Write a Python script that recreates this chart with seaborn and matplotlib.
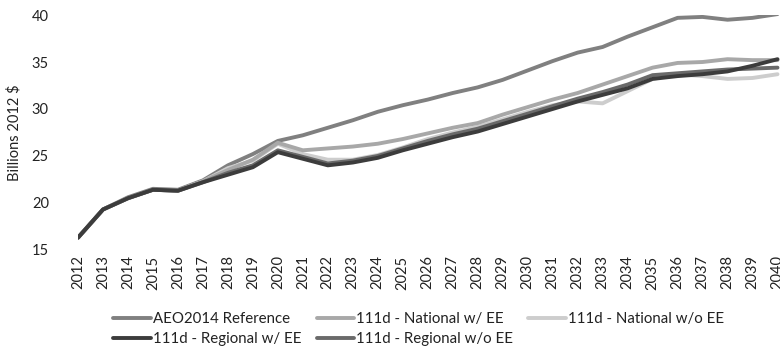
import matplotlib as mpl
import numpy as np
import pandas as pd
import seaborn as sns
import matplotlib.pyplot as plt

sns.set_style('white')
plt.rcParams['font.family'] = ['Lato', 'DejaVu Sans']

years = list(range(2012, 2041))

aeo_ref = [16.3, 19.3, 20.6, 21.5, 21.4, 22.4, 24.0, 25.2, 26.6, 27.2,
           28.0, 28.8, 29.7, 30.4, 31.0, 31.7, 32.3, 33.1, 34.1, 35.1,
           36.0, 36.6, 37.7, 38.7, 39.7, 39.8, 39.5, 39.7, 40.1]
nat_ee = [16.3, 19.3, 20.5, 21.4, 21.3, 22.3, 23.5, 24.6, 26.4, 25.6,
          25.8, 26.0, 26.3, 26.8, 27.4, 28.0, 28.5, 29.4, 30.2, 31.0,
          31.7, 32.6, 33.5, 34.4, 34.9, 35.0, 35.3, 35.2, 35.2]
nat_no_ee = [16.3, 19.3, 20.5, 21.4, 21.3, 22.3, 23.7, 24.5, 26.3, 25.2,
             24.6, 24.6, 25.1, 25.9, 26.8, 27.5, 28.1, 28.9, 29.7, 30.4,
             30.8, 30.6, 31.9, 33.2, 33.7, 33.5, 33.2, 33.3, 33.7]
reg_ee = [16.3, 19.3, 20.5, 21.4, 21.3, 22.2, 23.0, 23.8, 25.4, 24.7,
          24.0, 24.3, 24.8, 25.6, 26.3, 27.0, 27.6, 28.4, 29.2, 30.0,
          30.8, 31.5, 32.2, 33.2, 33.5, 33.7, 34.0, 34.6, 35.3]
reg_no_ee = [16.3, 19.3, 20.5, 21.4, 21.3, 22.2, 23.2, 24.0, 25.6, 24.9,
             24.2, 24.5, 25.0, 25.8, 26.6, 27.3, 27.9, 28.7, 29.5, 30.3,
             31.1, 31.8, 32.6, 33.6, 33.8, 34.0, 34.2, 34.3, 34.4]

series = {
    'AEO2014 Reference': aeo_ref,
    '111d - National w/ EE': nat_ee,
    '111d - National w/o EE': nat_no_ee,
    '111d - Regional w/ EE': reg_ee,
    '111d - Regional w/o EE': reg_no_ee,
}
colors = {
    'AEO2014 Reference': '#808080',
    '111d - National w/ EE': '#a8a8a8',
    '111d - National w/o EE': '#cdcdcd',
    '111d - Regional w/ EE': '#3c3c3c',
    '111d - Regional w/o EE': '#6a6a6a',
}

df = pd.concat([pd.DataFrame({'Year': years, 'Value': v, 'Scenario': k})
                for k, v in series.items()])

fig = plt.figure(figsize=(7.8, 3.58), dpi=100)
ax = fig.add_axes([0.1, 0.302, 0.9, 0.656])

# draw light ones first so dark ones sit on top
order = ['AEO2014 Reference', '111d - National w/o EE', '111d - National w/ EE',
         '111d - Regional w/o EE', '111d - Regional w/ EE']
for name in order:
    sns.lineplot(data=df[df['Scenario'] == name], x='Year', y='Value',
                 color=colors[name], linewidth=2.8, label=name, ax=ax,
                 legend=False)

ax.set_xlim(2012, 2040.1)
ax.set_ylim(15, 40)
ax.set_xticks(years)
ax.set_xticklabels([str(y) for y in years], rotation=90, fontsize=10.5,
                   color='#222222')
ax.set_yticks([15, 20, 25, 30, 35, 40])
ax.tick_params(axis='y', labelsize=10.5, colors='#222222', pad=21, length=0)
ax.tick_params(axis='x', pad=4, length=0)
ax.set_xlabel('')
ax.set_ylabel('Billions 2012 $', fontsize=10.5, color='#222222', labelpad=7)
for s in ax.spines.values():
    s.set_visible(False)

handles = {l: h for h, l in zip(*ax.get_legend_handles_labels())}
leg_order = ['AEO2014 Reference', '111d - Regional w/ EE',
             '111d - National w/ EE', '111d - Regional w/o EE',
             '111d - National w/o EE']
fig.legend([handles[l] for l in leg_order], leg_order, ncol=3,
           loc='upper left', bbox_to_anchor=(0.128, 0.165), frameon=False,
           fontsize=10.8, handlelength=2.5, handletextpad=0.15,
           columnspacing=1.0, labelspacing=0.4, labelcolor='#222222')

fig.savefig('out.png', dpi=100, facecolor='w')
